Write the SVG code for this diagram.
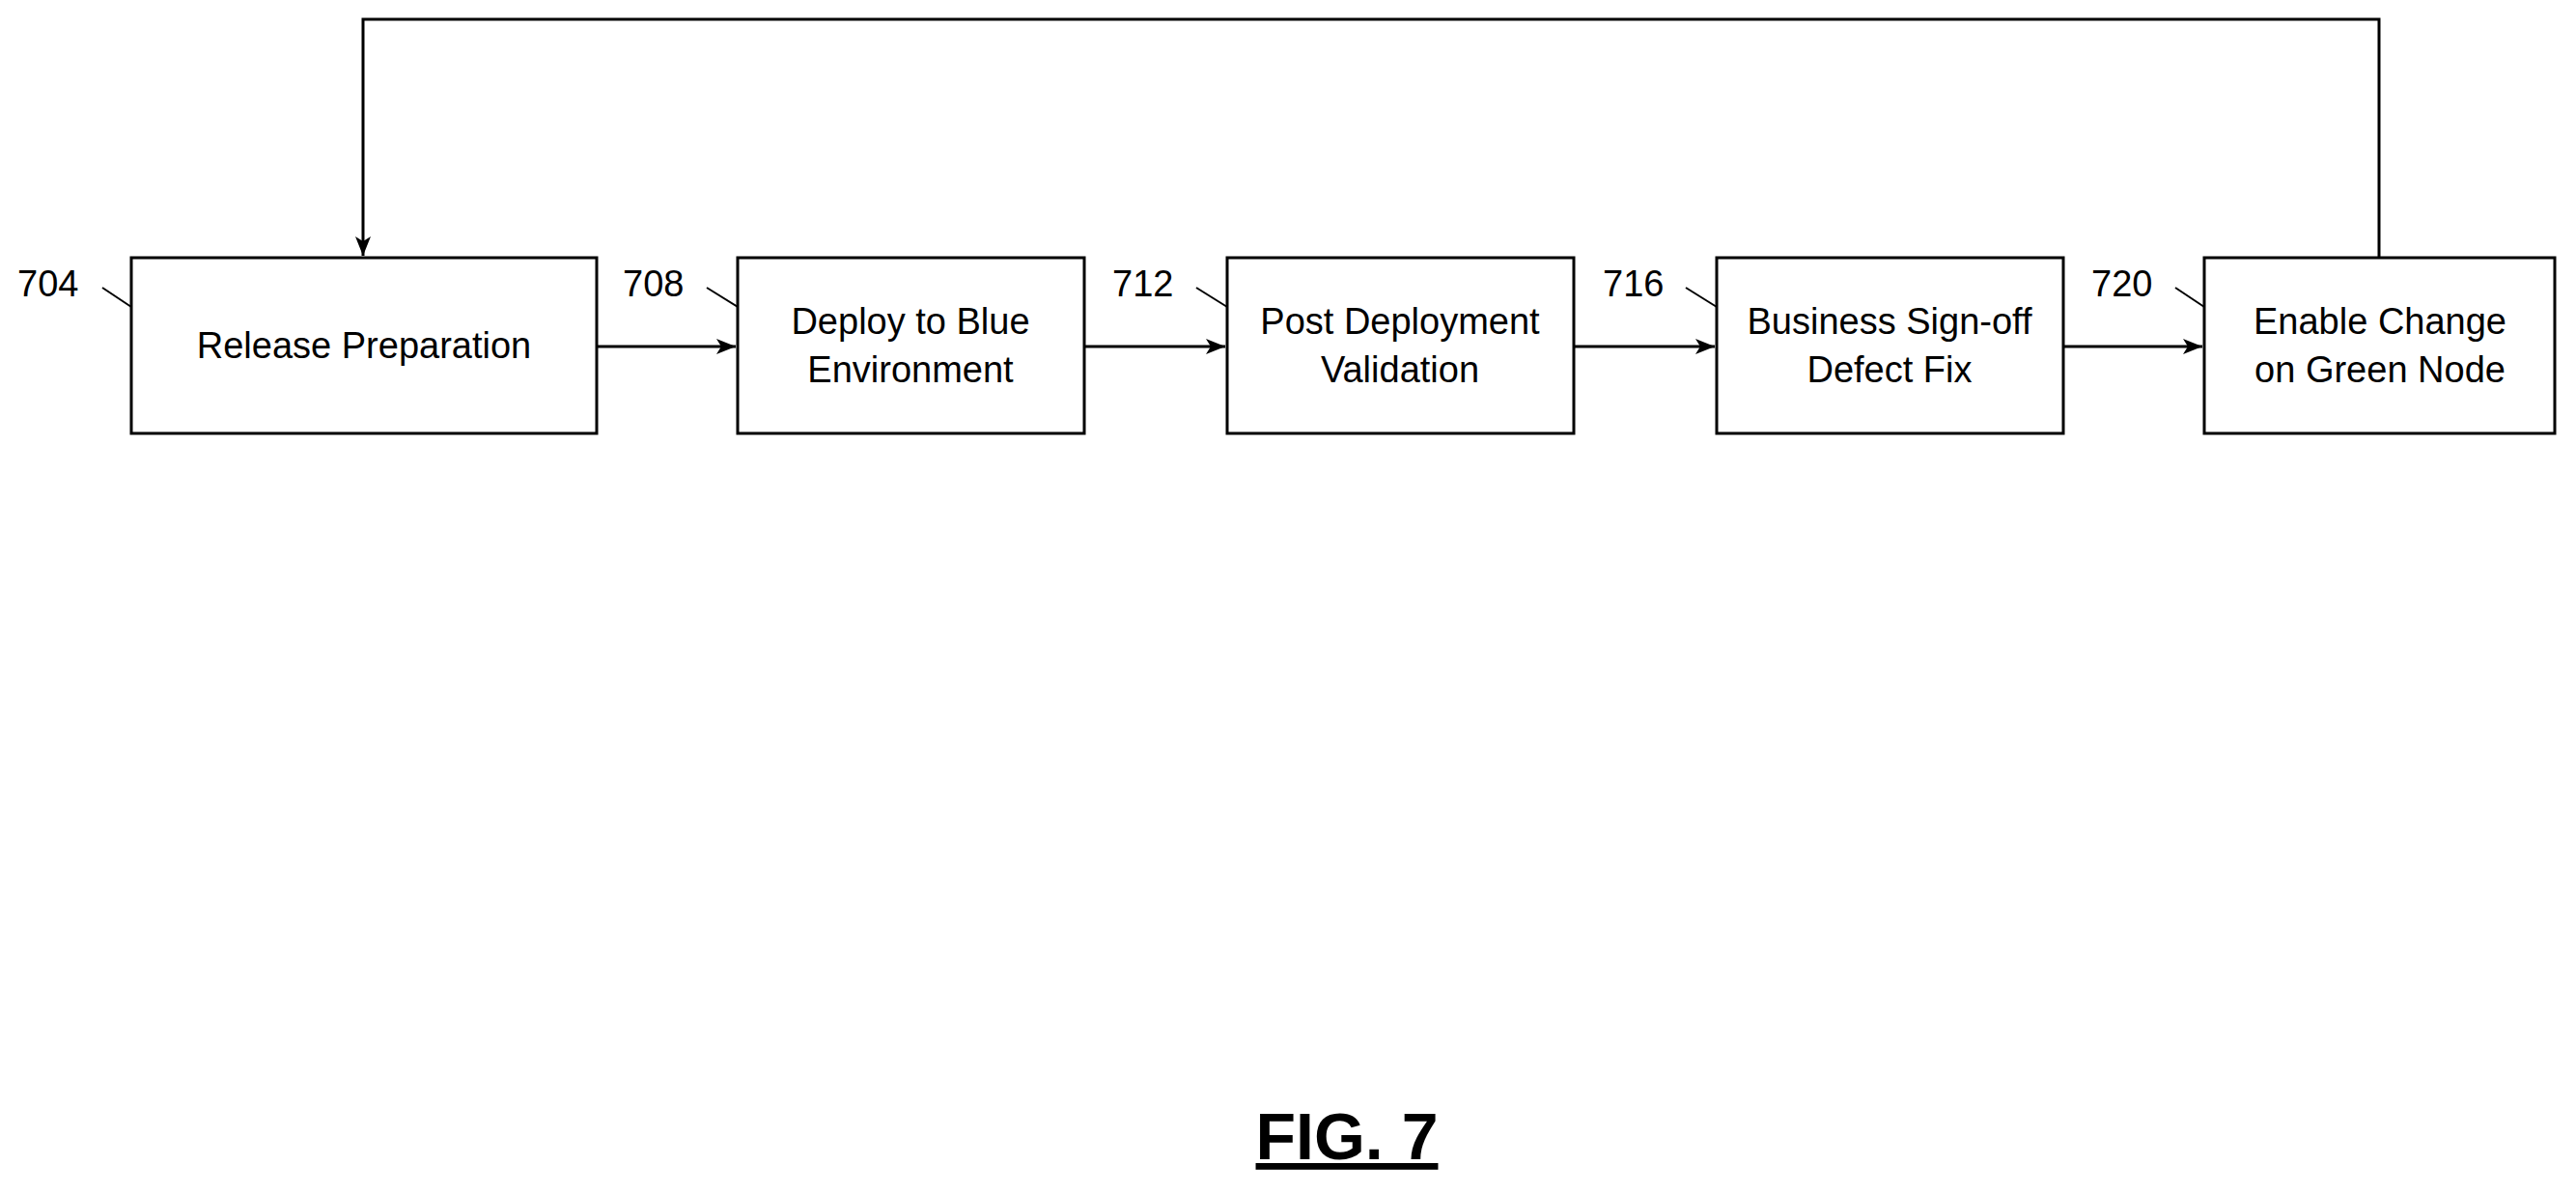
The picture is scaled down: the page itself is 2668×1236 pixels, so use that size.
<svg xmlns="http://www.w3.org/2000/svg" width="2668" height="1236" viewBox="0 0 2668 1236">
<style>
.b{fill:#fff;stroke:#000;stroke-width:3}
.t{font-family:"Liberation Sans",Arial,sans-serif;font-size:38px;text-anchor:middle;fill:#000}
.n{font-family:"Liberation Sans",Arial,sans-serif;font-size:38px;fill:#000}
.l{stroke:#000;stroke-width:2;fill:none}
.c{stroke:#000;stroke-width:3;fill:none}
</style>
<defs><marker id="a" markerWidth="10" markerHeight="8" refX="10" refY="4" orient="auto" markerUnits="userSpaceOnUse"><path d="M0,0 L10,4 L0,8 L3,4 Z" fill="#000" transform="scale(1)"/></marker>
<marker id="h" viewBox="0 0 20 16" markerWidth="22" markerHeight="16" refX="20" refY="8" orient="auto" markerUnits="userSpaceOnUse"><path d="M0,0 L20,8 L0,16 L5,8 Z" fill="#000"/></marker></defs>
<g id="connectors">
<path class="c" d="M2464,267 V20 H376 V265" marker-end="url(#h)"/>
<path class="c" d="M618,359 H762" marker-end="url(#h)"/>
<path class="c" d="M1123,359 H1269" marker-end="url(#h)"/>
<path class="c" d="M1630,359 H1776" marker-end="url(#h)"/>
<path class="c" d="M2137,359 H2281" marker-end="url(#h)"/>
</g>
<g id="n704"><rect class="b" x="136" y="267" width="482" height="182"/><text class="t" x="377" y="371">Release Preparation</text><text class="n" x="18" y="307">704</text><path class="l" d="M106,298 L136,318"/></g>
<g id="n708"><rect class="b" x="764" y="267" width="359" height="182"/><text class="t" x="943" y="346">Deploy to Blue</text><text class="t" x="943" y="396">Environment</text><text class="n" x="645" y="307">708</text><path class="l" d="M732,298 L764,318"/></g>
<g id="n712"><rect class="b" x="1271" y="267" width="359" height="182"/><text class="t" x="1450" y="346">Post Deployment</text><text class="t" x="1450" y="396">Validation</text><text class="n" x="1152" y="307">712</text><path class="l" d="M1239,298 L1271,318"/></g>
<g id="n716"><rect class="b" x="1778" y="267" width="359" height="182"/><text class="t" x="1957" y="346">Business Sign-off</text><text class="t" x="1957" y="396">Defect Fix</text><text class="n" x="1660" y="307">716</text><path class="l" d="M1746,298 L1778,318"/></g>
<g id="n720"><rect class="b" x="2283" y="267" width="363" height="182"/><text class="t" x="2465" y="346">Enable Change</text><text class="t" x="2465" y="396">on Green Node</text><text class="n" x="2166" y="307">720</text><path class="l" d="M2253,298 L2283,318"/></g>
<g id="caption"><text x="1395" y="1201" style="font-family:'Liberation Sans',Arial,sans-serif;font-size:68px;font-weight:bold;text-anchor:middle;text-decoration:underline">FIG. 7</text></g>
</svg>
